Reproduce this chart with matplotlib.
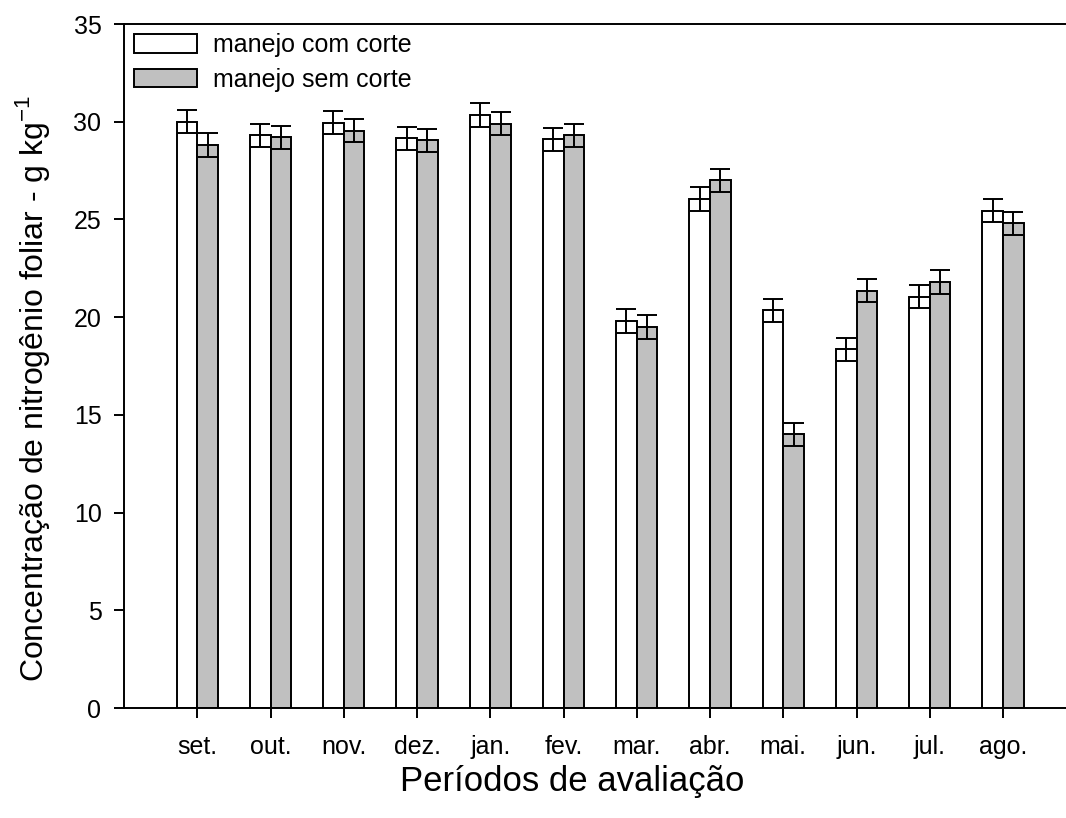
import numpy as np
import matplotlib
matplotlib.use('Agg')
import matplotlib.pyplot as plt

plt.rcParams['font.family'] = ['Liberation Sans', 'DejaVu Sans']
plt.rcParams['mathtext.fontset'] = 'custom'
plt.rcParams['mathtext.rm'] = 'Liberation Sans'

# leaf N concentration by month, two management schemes
meses = ['set.', 'out.', 'nov.', 'dez.', 'jan.', 'fev.',
         'mar.', 'abr.', 'mai.', 'jun.', 'jul.', 'ago.']
com_corte = [30.0, 29.3, 29.95, 29.15, 30.35, 29.1,
             19.8, 26.05, 20.35, 18.35, 21.05, 25.45]
sem_corte = [28.8, 29.2, 29.55, 29.05, 29.9, 29.3,
             19.5, 27.0, 14.0, 21.35, 21.8, 24.8]
erro_com = [0.6] * 12
erro_sem = [0.6] * 12

W, H = 1066, 818
fig = plt.figure(figsize=(W / 100, H / 100), dpi=100)
ax = fig.add_axes([124 / W, 1 - 708 / H, 1 - 124 / W, (708 - 24) / H])

x = np.arange(1, len(meses) + 1)
largura = 0.28
lw = 1.4

ax.bar(x - largura / 2, com_corte, largura, color='white', edgecolor='black',
       linewidth=lw, label='manejo com corte', zorder=2)
ax.bar(x + largura / 2, sem_corte, largura, color='#c0c0c0', edgecolor='black',
       linewidth=lw, label='manejo sem corte', zorder=2)
ax.errorbar(x - largura / 2, com_corte, yerr=erro_com, fmt='none', ecolor='black',
            elinewidth=lw, capsize=7.3, capthick=lw, zorder=3)
ax.errorbar(x + largura / 2, sem_corte, yerr=erro_sem, fmt='none', ecolor='black',
            elinewidth=lw, capsize=7.3, capthick=lw, zorder=3)

ax.set_xlim(0, 12.86)
ax.set_ylim(0, 35)
ax.set_xticks(x)
ax.set_xticklabels(meses)
ax.set_yticks(np.arange(0, 36, 5))

ax.spines['right'].set_visible(False)
for lado in ['left', 'bottom', 'top']:
    ax.spines[lado].set_linewidth(lw)
ax.tick_params(axis='both', direction='out', length=7.2, width=lw,
               labelsize=18, top=False, right=False)
ax.tick_params(axis='y', pad=9)
ax.tick_params(axis='x', pad=12)

ax.legend(loc='upper left', bbox_to_anchor=(134 / W, 1 - 33 / H),
          bbox_transform=fig.transFigure, frameon=False,
          fontsize=18, handlelength=2.5, handleheight=0.78,
          handletextpad=0.65, labelspacing=0.43, borderaxespad=0,
          borderpad=0)

fig.text(33 / W, 1 - 388 / H,
         'Concentração de nitrogênio foliar - g kg$^{-1}$',
         rotation=90, ha='center', va='center', fontsize=23)
fig.text(572 / W, 1 - 781 / H, 'Períodos de avaliação',
         ha='center', va='center', fontsize=25)

fig.savefig('out.png', dpi=100)
